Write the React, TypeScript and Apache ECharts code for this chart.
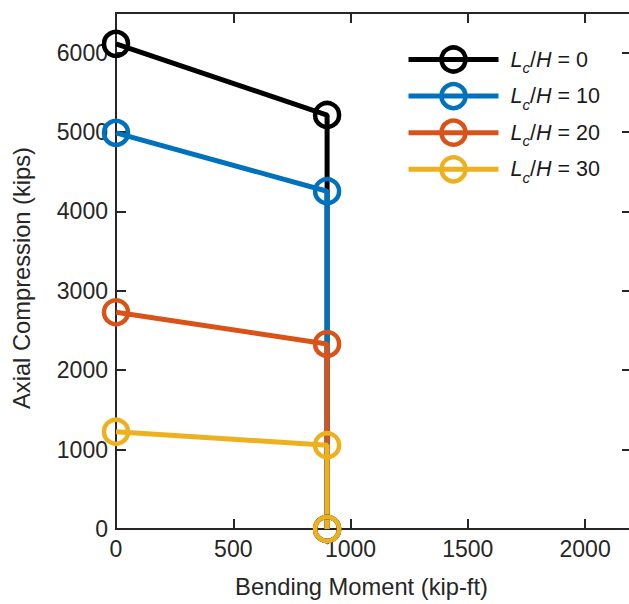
import React, { useEffect, useRef } from "react";
import * as echarts from "echarts";

const seriesNames = ["0", "10", "20", "30"];
const seriesColors = ["#000000", "#0072BD", "#D95319", "#EDB120"];
const momentValues = [0, 900, 900];
const compressionValues = [
  [6110, 5215, 0],
  [4990, 4255, 0],
  [2730, 2330, 0],
  [1225, 1055, 0],
];
const xTicks = [0, 500, 1000, 1500, 2000];
const yTicks = [0, 1000, 2000, 3000, 4000, 5000, 6000];

const FONT = "'Liberation Sans', Arial, Helvetica, sans-serif";
const AXIS_COLOR = "#262626";

export default function App() {
  const ref = useRef<HTMLDivElement>(null);

  useEffect(() => {
    if (!ref.current) return;
    const chart = echarts.init(ref.current, undefined, { renderer: "svg" });

    const axisCommon = {
      type: "value" as const,
      splitLine: { show: false },
      axisLine: { show: true, onZero: false, lineStyle: { color: AXIS_COLOR, width: 2 } },
      axisTick: { show: true, inside: true, length: 10, lineStyle: { color: AXIS_COLOR, width: 2 } },
    };

    const xMax = 2200;
    const yMax = 6500;

    const option = {
      animation: false,
      backgroundColor: "#ffffff",
      textStyle: { fontFamily: FONT },
      grid: { left: 116, top: 13, width: 516, height: 518, containLabel: false },
      legend: {
        left: 406,
        top: 44,
        padding: 0,
        orient: "vertical",
        itemWidth: 90,
        itemHeight: 30,
        itemGap: 5.6,
        selectedMode: false,
        lineStyle: { width: 5 },
        itemStyle: { borderWidth: 4.5 },
        data: seriesNames.map((n) => "Lc/H = " + n),
        formatter: (name: string) => {
          const v = name.replace("Lc/H = ", "");
          return "{gap|}{i|L}{sub|c}{n|/}{i|H}{n| = " + v + "}";
        },
        textStyle: {
          fontFamily: FONT,
          fontSize: 21.5,
          color: "#1a1a1a",
          rich: {
            gap: { width: 7, lineHeight: 30 },
            i: { fontFamily: FONT, fontSize: 21.5, fontStyle: "italic", color: "#1a1a1a", lineHeight: 30 },
            n: { fontFamily: FONT, fontSize: 21.5, color: "#1a1a1a", lineHeight: 30 },
            sub: {
              fontFamily: FONT,
              fontSize: 15,
              fontStyle: "italic",
              color: "#1a1a1a",
              lineHeight: 14,
              padding: [16, 0, 0, 0],
            },
          },
        },
      },
      xAxis: [
        {
          ...axisCommon,
          position: "bottom",
          min: 0,
          max: xMax,
          interval: 500,
          axisLabel: {
            show: true,
            color: AXIS_COLOR,
            fontSize: 23,
            fontFamily: FONT,
            margin: 8,
            showMaxLabel: false,
            formatter: (v: number) => (xTicks.includes(v) ? String(v) : ""),
          },
          name: "Bending Moment (kip-ft)",
          nameLocation: "middle",
          nameGap: 46,
          nameTextStyle: { color: AXIS_COLOR, fontSize: 23.7, fontFamily: FONT, padding: [0, 25, 0, 0] },
        },
        {
          ...axisCommon,
          position: "top",
          min: 0,
          max: xMax,
          interval: 500,
          axisLabel: { show: false },
        },
      ],
      yAxis: [
        {
          ...axisCommon,
          position: "left",
          min: 0,
          max: yMax,
          interval: 1000,
          axisLabel: {
            show: true,
            color: AXIS_COLOR,
            fontSize: 23,
            fontFamily: FONT,
            margin: 8,
            showMaxLabel: false,
            formatter: (v: number) => (yTicks.includes(v) ? String(v) : ""),
          },
          name: "Axial Compression (kips)",
          nameLocation: "middle",
          nameGap: 82,
          nameRotate: 90,
          nameTextStyle: { color: AXIS_COLOR, fontSize: 23.7, fontFamily: FONT, padding: [0, 14, 0, 0] },
        },
        {
          ...axisCommon,
          position: "right",
          min: 0,
          max: yMax,
          interval: 1000,
          axisLabel: { show: false },
        },
      ],
      series: seriesNames.map((n, i) => ({
        name: "Lc/H = " + n,
        type: "line",
        xAxisIndex: 0,
        yAxisIndex: 0,
        clip: false,
        symbol: "circle",
        symbolSize: 24,
        showSymbol: true,
        showAllSymbol: true,
        lineStyle: { color: seriesColors[i], width: 5 },
        itemStyle: { color: "rgba(255,255,255,0)", borderColor: seriesColors[i], borderWidth: 4.5 },
        emphasis: { disabled: true },
        data: momentValues.map((x, j) => [x, compressionValues[i][j]]),
      })),
    };

    chart.setOption(option as any);
    return () => chart.dispose();
  }, []);

  return (
    <div style={{ position: "fixed", left: 0, top: 0, width: 629, height: 604, overflow: "hidden", background: "#fff" }}>
      <div ref={ref} style={{ width: 640, height: 604 }} />
    </div>
  );
}
